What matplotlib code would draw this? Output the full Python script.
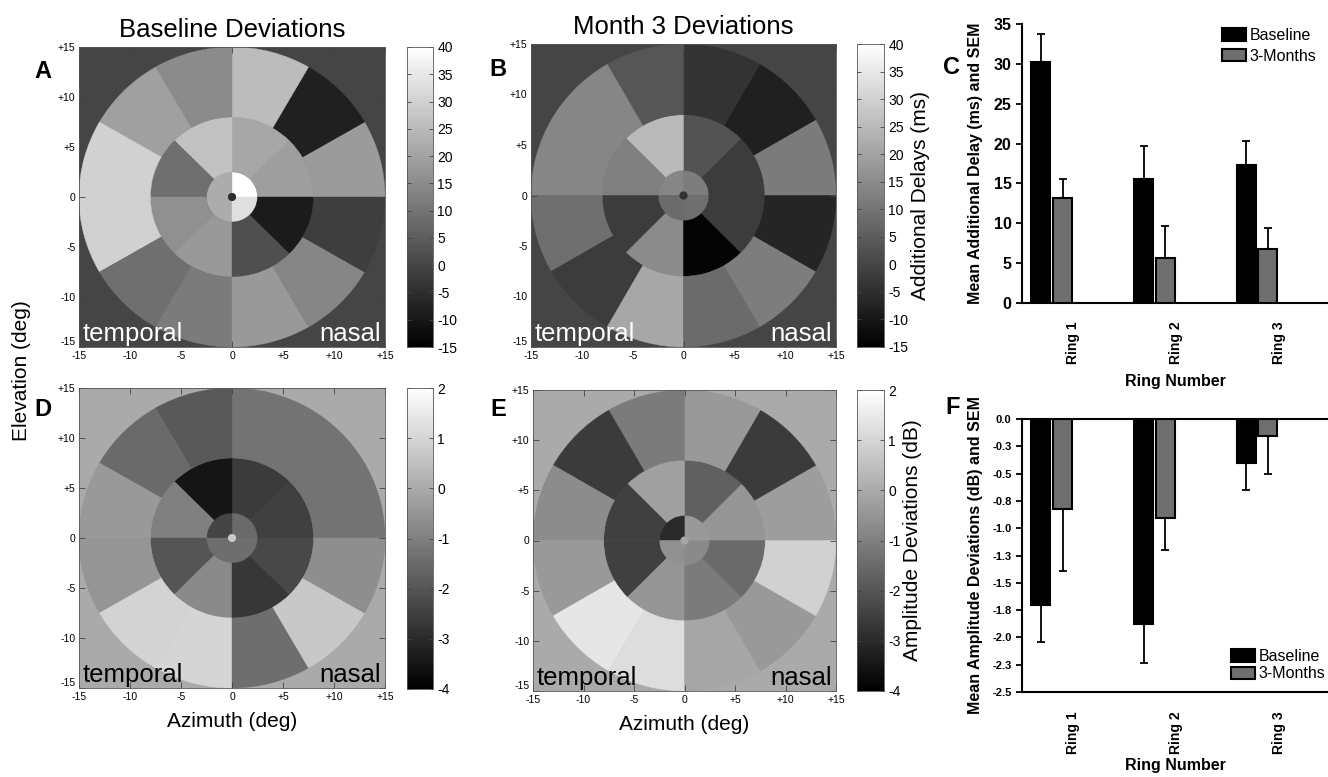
import numpy as np
import matplotlib
matplotlib.use('Agg')
import matplotlib.pyplot as plt
from matplotlib.patches import Wedge, Circle
from matplotlib.colors import Normalize
from matplotlib.cm import ScalarMappable

plt.rcParams['font.family'] = ['Liberation Sans', 'DejaVu Sans']
plt.rcParams['axes.unicode_minus'] = False

W, H = 1328, 777

# dartboard sectors, counter-clockwise from +x (nasal side to the right)
# center dot, ring 1 (4 x 90 deg), ring 2 (8 x 45 deg), ring 3 (12 x 30 deg)
radii = [0.4, 2.5, 8, 15]

delay_base_center = -5
delay_base_ring1 = [40, 22, 22, 33]
delay_base_ring2 = [19, 21, 26.5, 9, 16, 18, 2, -9]
delay_base_ring3 = [18.5, -8, 25.5, 15, 19.5, 30, 30, 9, 11.5, 18, 14, -1.5]

delay_3m_center = -4
delay_3m_ring1 = [12, 14, 8, 9]
delay_3m_ring2 = [-2, 3, 25, 12.5, -2, 15, -14, -2]
delay_3m_ring3 = [11.5, -8, -4, 3.5, 14, 14, 9, -2, 21, 8, 12, -7]

amp_base_center = 0.7
amp_base_ring1 = [-1.5, -2.4, -1.4, -1.4]
amp_base_ring2 = [-2.5, -2.6, -3.5, -1.0, -2.0, -0.75, -2.7, -2.3]
amp_base_ring3 = [-1.3, -1.3, -1.3, -1.9, -1.5, -0.4, -0.5, 0.95, 1.0, -1.4, 0.7, -0.65]

amp_3m_center = -0.1
amp_3m_ring1 = [-0.4, -3.0, -0.6, -0.75]
amp_3m_ring2 = [-0.5, -1.75, -0.25, -2.5, -2.5, -0.5, -1.1, -1.5]
amp_3m_ring3 = [-0.3, -2.6, -0.4, -1.1, -2.6, -0.7, -0.4, 1.4, 1.2, -0.1, -0.4, 0.9]

map_ticks = [-15, -10, -5, 0, 5, 10, 15]
map_ticklabels = ['-15', '-10', '-5', '0', '+5', '+10', '+15']
delay_cbar_ticks = [-15, -10, -5, 0, 5, 10, 15, 20, 25, 30, 35, 40]
amp_cbar_ticks = [-4, -3, -2, -1, 0, 1, 2]

# bar charts
rings = ['Ring 1', 'Ring 2', 'Ring 3']
delay_base = [30.2, 15.5, 17.3]
delay_base_sem = [3.6, 4.2, 3.0]
delay_3m = [13.2, 5.6, 6.8]
delay_3m_sem = [2.4, 4.1, 2.6]
amp_base = [-1.70, -1.88, -0.40]
amp_base_sem = [0.34, 0.35, 0.25]
amp_3m = [-0.82, -0.91, -0.16]
amp_3m_sem = [0.57, 0.29, 0.34]
amp_ticks = [-2.5, -2.25, -2.0, -1.75, -1.5, -1.25, -1.0, -0.75, -0.5, -0.25, 0.0]
amp_ticklabels = ['-2.5', '-2.3', '-2.0', '-1.8', '-1.5', '-1.3', '-1.0', '-0.8', '-0.5', '-0.3', '0.0']


def px_axes(fig, l, t, r, b):
    return fig.add_axes([l / W, 1 - b / H, (r - l) / W, (b - t) / H])


def plot_dartboard(ax, cax, center, ring1, ring2, ring3, vmin, vmax, cticks, text_color):
    norm = Normalize(vmin=vmin, vmax=vmax)
    cmap = plt.get_cmap('gray')
    ax.set_facecolor(cmap(norm(0)))
    for ring_vals, r_in, r_out in [(ring1, radii[0], radii[1]),
                                   (ring2, radii[1], radii[2]),
                                   (ring3, radii[2], radii[3])]:
        step = 360 / len(ring_vals)
        for i, val in enumerate(ring_vals):
            ax.add_patch(Wedge((0, 0), r_out, i * step, (i + 1) * step, width=r_out - r_in,
                               facecolor=cmap(norm(val)), edgecolor=cmap(norm(val)), lw=0.3))
    ax.add_patch(Circle((0, 0), radii[0], facecolor=cmap(norm(center)), edgecolor='none'))
    ax.set_xlim(-15, 15)
    ax.set_ylim(-15, 15)
    ax.set_xticks(map_ticks)
    ax.set_xticklabels(map_ticklabels)
    ax.set_yticks(map_ticks)
    ax.set_yticklabels(map_ticklabels)
    ax.tick_params(direction='in', top=True, right=True, length=4, width=0.6,
                   labelsize=7.5, color='#444444')
    ax.tick_params(axis='x', pad=3)
    ax.tick_params(axis='y', pad=2.5)
    # bottom y label sits just above the corner, as in the original
    ax.get_yticklabels()[0].set_va('bottom')
    for sp in ax.spines.values():
        sp.set_linewidth(0.6)
        sp.set_color('#555555')
    ax.text(-14.6, -14.4, 'temporal', color=text_color, fontsize=18.5, ha='left', va='baseline')
    ax.text(14.6, -14.4, 'nasal', color=text_color, fontsize=18.5, ha='right', va='baseline')

    cb = plt.colorbar(ScalarMappable(norm=norm, cmap=cmap), cax=cax, ticks=cticks)
    cb.outline.set_linewidth(0.6)
    cb.outline.set_edgecolor('#555555')
    cax.tick_params(direction='in', left=True, right=True, length=3, width=0.6,
                    labelsize=10, pad=3, color='#444444')
    return cb


def plot_bars(ax, base, base_sem, m3, m3_sem, up=True):
    x = np.arange(len(rings))
    ax.bar(x - 0.105, base, width=0.185, color='black', edgecolor='black', lw=1.5,
           label='Baseline', zorder=3)
    ax.bar(x + 0.105, m3, width=0.185, color='#6f6f6f', edgecolor='black', lw=1.5,
           label='3-Months', zorder=3)
    zeros = [0] * len(rings)
    if up:
        yerr_b, yerr_m = [zeros, base_sem], [zeros, m3_sem]
    else:
        yerr_b, yerr_m = [base_sem, zeros], [m3_sem, zeros]
    ax.errorbar(x - 0.105, base, yerr=yerr_b, fmt='none', ecolor='black',
                elinewidth=1.3, capsize=3, capthick=1.3, zorder=2)
    ax.errorbar(x + 0.105, m3, yerr=yerr_m, fmt='none', ecolor='black',
                elinewidth=1.3, capsize=3, capthick=1.3, zorder=2)
    ax.set_xlim(-0.29, 2.69)
    ax.set_xticks(x + 0.21)
    ax.set_xticklabels(rings, rotation=90, fontsize=10, fontweight='bold')
    ax.set_xlabel('Ring Number', fontsize=11.5, fontweight='bold')
    for sp in ax.spines.values():
        sp.set_linewidth(1.5)
    ax.spines['right'].set_visible(False)
    ax.tick_params(axis='x', length=0)
    ax.tick_params(axis='y', direction='out', length=4, width=1.3)


fig = plt.figure(figsize=(W / 100, H / 100), dpi=100, facecolor='white')

# A
axA = px_axes(fig, 79, 47, 385, 347)
caxA = px_axes(fig, 407, 47, 433, 347)
plot_dartboard(axA, caxA, delay_base_center, delay_base_ring1, delay_base_ring2,
               delay_base_ring3, -15, 40, delay_cbar_ticks, 'white')
axA.set_title('Baseline Deviations', fontsize=18.5, pad=7)

# B
axB = px_axes(fig, 531, 44, 836, 347)
caxB = px_axes(fig, 857, 44, 884, 347)
cbB = plot_dartboard(axB, caxB, delay_3m_center, delay_3m_ring1, delay_3m_ring2,
                     delay_3m_ring3, -15, 40, delay_cbar_ticks, 'white')
axB.set_title('Month 3 Deviations', fontsize=18.5, pad=7)
cbB.set_label('Additional Delays (ms)', fontsize=15, labelpad=2)

# D
axD = px_axes(fig, 79, 388, 385, 688)
caxD = px_axes(fig, 407, 388, 433, 689)
plot_dartboard(axD, caxD, amp_base_center, amp_base_ring1, amp_base_ring2,
               amp_base_ring3, -4, 2, amp_cbar_ticks, 'black')
axD.set_xlabel('Azimuth (deg)', fontsize=15, labelpad=7)

# E
axE = px_axes(fig, 533, 390, 836, 691)
caxE = px_axes(fig, 857, 390, 884, 691)
cbE = plot_dartboard(axE, caxE, amp_3m_center, amp_3m_ring1, amp_3m_ring2,
                     amp_3m_ring3, -4, 2, amp_cbar_ticks, 'black')
axE.set_xlabel('Azimuth (deg)', fontsize=15, labelpad=7)
cbE.set_label('Amplitude Deviations (dB)', fontsize=15, labelpad=2)

fig.text(22 / W, 1 - 371 / H, 'Elevation (deg)', fontsize=15, rotation=90,
         ha='center', va='center')

# C
axC = px_axes(fig, 1022, 24, 1328, 303)
plot_bars(axC, delay_base, delay_base_sem, delay_3m, delay_3m_sem, up=True)
axC.set_ylim(0, 35)
axC.set_yticks(range(0, 36, 5))
axC.spines['top'].set_visible(False)
axC.tick_params(axis='x', pad=13)
for lab in axC.get_yticklabels():
    lab.set_fontweight('bold')
    lab.set_fontsize(11.5)
axC.set_ylabel('Mean Additional Delay (ms) and SEM', fontsize=11.5, fontweight='bold')
axC.yaxis.set_label_coords(-0.127, 0.5)
axC.xaxis.set_label_coords(0.5, -0.255)
axC.legend(loc='upper left', bbox_to_anchor=(1222 / W, 1 - 28 / H), bbox_transform=fig.transFigure,
           frameon=False, borderpad=0, borderaxespad=0, handlelength=1.5, handleheight=0.8,
           handletextpad=0.25, labelspacing=0.35, fontsize=11.5)

# F
axF = px_axes(fig, 1022, 419, 1328, 692)
plot_bars(axF, amp_base, amp_base_sem, amp_3m, amp_3m_sem, up=False)
axF.set_ylim(-2.5, 0)
axF.set_yticks(amp_ticks)
axF.set_yticklabels(amp_ticklabels, fontsize=8, fontweight='bold')
axF.tick_params(axis='x', pad=14)
axF.set_ylabel('Mean Amplitude Deviations (dB) and SEM', fontsize=11.5, fontweight='bold')
axF.yaxis.set_label_coords(-0.127, 0.5)
axF.xaxis.set_label_coords(0.5, -0.24)
axF.legend(loc='upper left', bbox_to_anchor=(1231 / W, 1 - 649 / H), bbox_transform=fig.transFigure,
           frameon=False, borderpad=0, borderaxespad=0, handlelength=1.5, handleheight=0.8,
           handletextpad=0.25, labelspacing=0.15, fontsize=11.5)

# panel letters
for letter, x, y in [('A', 43, 72), ('B', 498, 70), ('C', 952, 68),
                     ('D', 43, 410), ('E', 498, 410), ('F', 953, 407)]:
    fig.text(x / W, 1 - y / H, letter, fontsize=17, fontweight='bold', ha='center', va='center')

fig.savefig('out.png', dpi=100, facecolor='white')
